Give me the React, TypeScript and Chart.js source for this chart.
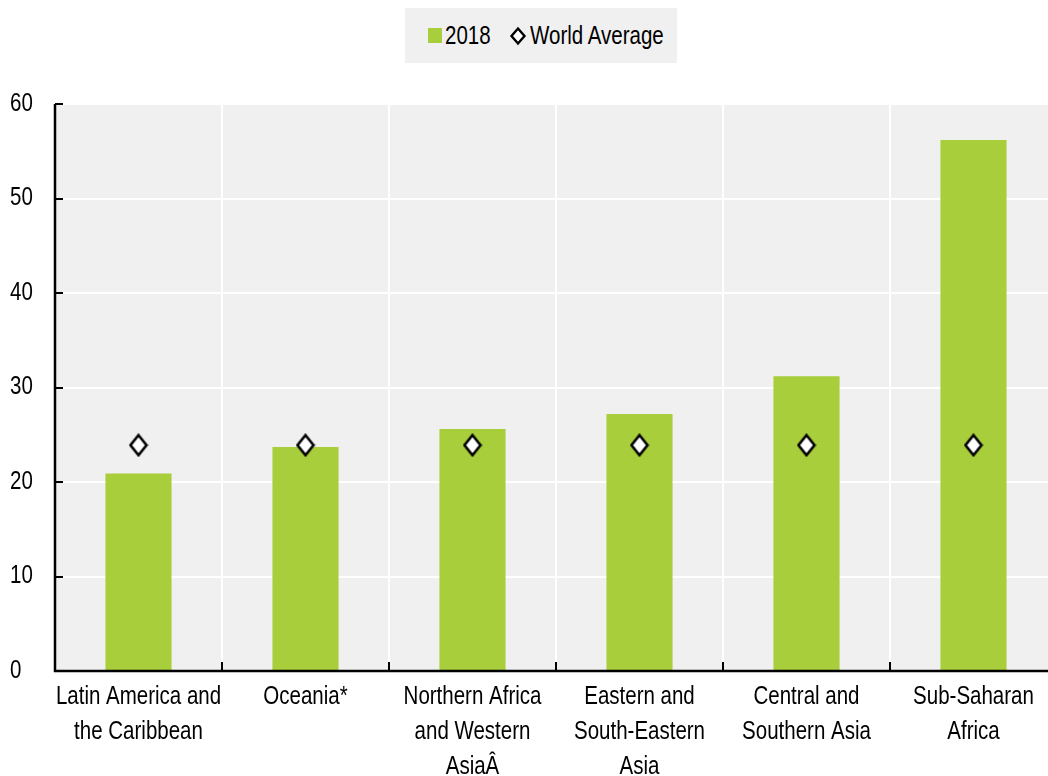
import React, { useEffect, useRef } from "react";
import { Chart, registerables } from "chart.js";

Chart.register(...registerables);

const categories: string[][] = [
  ["Latin America and", "the Caribbean"],
  ["Oceania*"],
  ["Northern Africa", "and Western", "AsiaÂ"],
  ["Eastern and", "South-Eastern", "Asia"],
  ["Central and", "Southern Asia"],
  ["Sub-Saharan", "Africa"],
];
const values2018: number[] = [20.9, 23.7, 25.6, 27.2, 31.2, 56.2];
const worldAverage: number[] = [23.9, 23.9, 23.9, 23.9, 23.9, 23.9];
const yTicks: number[] = [0, 10, 20, 30, 40, 50, 60];

const GREEN = "#a9ce3b";
const BG = "#f0f0f0";
const FONT = "'Liberation Sans', Arial, sans-serif";
const NARROW = 0.82;

function makeDiamond(): HTMLCanvasElement {
  const c = document.createElement("canvas");
  c.width = 20;
  c.height = 24;
  const g = c.getContext("2d")!;
  g.beginPath();
  g.moveTo(10, 2);
  g.lineTo(18, 12);
  g.lineTo(10, 22);
  g.lineTo(2, 12);
  g.closePath();
  g.fillStyle = "#fff";
  g.fill();
  g.lineWidth = 2.6;
  g.lineJoin = "miter";
  g.strokeStyle = "#000";
  g.stroke();
  return c;
}

const frame = {
  id: "frame",
  beforeDraw(chart: any) {
    const { ctx, chartArea: a } = chart;
    ctx.save();
    ctx.fillStyle = BG;
    ctx.fillRect(a.left, a.top, a.right - a.left, a.bottom - a.top);
    ctx.restore();
  },
  afterDraw(chart: any) {
    const { ctx, chartArea: a, scales } = chart;
    ctx.save();
    ctx.strokeStyle = "#000";
    ctx.lineWidth = 2.5;
    ctx.beginPath();
    ctx.moveTo(a.left, a.top);
    ctx.lineTo(a.left, a.bottom);
    ctx.lineTo(a.right, a.bottom);
    ctx.stroke();
    ctx.lineWidth = 2;
    ctx.beginPath();
    yTicks.forEach((v) => {
      const y = Math.round(scales.y.getPixelForValue(v));
      ctx.moveTo(a.left, y);
      ctx.lineTo(a.left + 8, y);
    });
    const n = categories.length;
    for (let i = 1; i < n; i++) {
      const x = Math.round((scales.x.getPixelForValue(i - 1) + scales.x.getPixelForValue(i)) / 2);
      ctx.moveTo(x, a.bottom);
      ctx.lineTo(x, a.bottom - 9);
    }
    ctx.stroke();
    ctx.restore();
  },
};

export default function App() {
  const ref = useRef<HTMLCanvasElement | null>(null);
  useEffect(() => {
    document.body.style.margin = "0";
    const canvas = ref.current;
    if (!canvas) return;
    const ctx: any = canvas.getContext("2d");
    const origFill = ctx.fillText.bind(ctx);
    const origMeasure = ctx.measureText.bind(ctx);
    ctx.fillText = function (text: string, x: number, y: number, maxWidth?: number) {
      ctx.save();
      ctx.translate(x, y);
      ctx.scale(NARROW, 1);
      if (maxWidth === undefined) origFill(text, 0, 0);
      else origFill(text, 0, 0, maxWidth / NARROW);
      ctx.restore();
    };
    ctx.measureText = function (text: string) {
      const m = origMeasure(text);
      return { width: m.width * NARROW, actualBoundingBoxAscent: m.actualBoundingBoxAscent, actualBoundingBoxDescent: m.actualBoundingBoxDescent };
    };
    const diamond = makeDiamond();
    const chart = new Chart(canvas, {
      type: "bar",
      data: {
        labels: categories,
        datasets: [
          {
            type: "line",
            label: "World Average",
            data: worldAverage,
            showLine: false,
            pointStyle: diamond,
            pointRadius: 10,
            order: 0,
          } as any,
          {
            type: "bar",
            label: "2018",
            data: values2018,
            backgroundColor: GREEN,
            barPercentage: 0.396,
            categoryPercentage: 1,
            order: 1,
          },
        ],
      },
      plugins: [frame],
      options: {
        responsive: false,
        animation: false,
        layout: { autoPadding: false, padding: { top: 104, left: 10, right: 0, bottom: 0 } },
        plugins: {
          legend: { display: false },
          tooltip: { enabled: false },
        },
        scales: {
          x: {
            offset: true,
            grid: { color: "#ffffff", lineWidth: 2, drawTicks: false, offset: true },
            border: { display: false },
            ticks: {
              color: "#000",
              font: { family: FONT, size: 25, lineHeight: 1.4 },
              padding: 9,
              maxRotation: 0,
              autoSkip: false,
            },
            afterFit: (s: any) => {
              s.height = 105;
              s.paddingLeft = 0;
              s.paddingRight = 0;
            },
          },
          y: {
            min: 0,
            max: 60,
            grid: { color: "#ffffff", lineWidth: 2, drawTicks: false },
            border: { display: false },
            ticks: {
              stepSize: 10,
              color: "#000",
              crossAlign: "far",
              font: { family: FONT, size: 25 },
            },
            afterFit: (s: any) => {
              s.width = 45;
              s.paddingTop = 0;
              s.paddingBottom = 0;
            },
          },
        },
      },
    });
    return () => chart.destroy();
  }, []);

  const textStyle: React.CSSProperties = {
    position: "absolute",
    top: 20,
    fontSize: 25,
    lineHeight: "30px",
    whiteSpace: "nowrap",
    transform: `scaleX(${NARROW})`,
    transformOrigin: "left center",
    color: "#000",
  };

  return (
    <div style={{ position: "relative", width: 1048, height: 776, overflow: "hidden", fontFamily: FONT }}>
      <canvas ref={ref} width={1057} height={776} style={{ display: "block" }} />
      <div style={{ position: "absolute", left: 405, top: 8, width: 272, height: 55, background: BG }} />
      <div style={{ position: "absolute", left: 428, top: 28, width: 14, height: 15, background: GREEN }} />
      <span style={{ ...textStyle, left: 445 }}>2018</span>
      <svg width="18" height="20" viewBox="0 0 18 20" style={{ position: "absolute", left: 509, top: 26 }}>
        <polygon points="9,2.5 15.5,10 9,17.5 2.5,10" fill="#fff" stroke="#000" strokeWidth="2.4" />
      </svg>
      <span style={{ ...textStyle, left: 530 }}>World Average</span>
    </div>
  );
}
